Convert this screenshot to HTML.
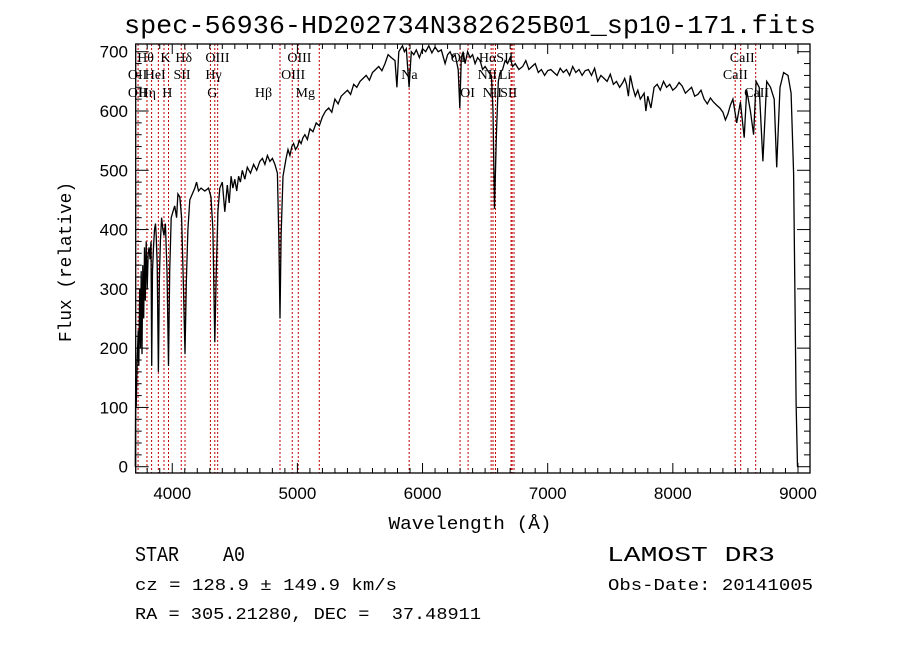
<!DOCTYPE html>
<html><head><meta charset="utf-8"><style>
html,body{margin:0;padding:0;background:#fff;}
svg{display:block;}
text{white-space:pre;}
</style></head><body>
<svg id="chart" width="900" height="649" xmlns="http://www.w3.org/2000/svg" xml:space="preserve">
<rect width="900" height="649" fill="#fff"/>
<text x="470" y="33" text-anchor="middle" font-family="Liberation Mono, monospace" font-size="26" textLength="692" lengthAdjust="spacingAndGlyphs">spec-56936-HD202734N382625B01_sp10-171.fits</text>
<g id="lines"></g>
<g id="labels"></g>
<g id="series"></g>
<g id="axes"></g>
<text x="470" y="529" text-anchor="middle" font-family="Liberation Mono, monospace" font-size="18" textLength="163" lengthAdjust="spacingAndGlyphs">Wavelength (Å)</text>
<text transform="translate(71,262) rotate(-90)" text-anchor="middle" font-family="Liberation Mono, monospace" font-size="18" textLength="160" lengthAdjust="spacingAndGlyphs">Flux (relative)</text>
<text x="135" y="561" font-family="Liberation Mono, monospace" font-size="21" textLength="110" lengthAdjust="spacingAndGlyphs">STAR    A0</text>
<text x="607" y="561" font-family="Liberation Mono, monospace" font-size="21" textLength="168" lengthAdjust="spacingAndGlyphs">LAMOST DR3</text>
<text x="135" y="590" font-family="Liberation Mono, monospace" font-size="17" textLength="262" lengthAdjust="spacingAndGlyphs">cz = 128.9 ± 149.9 km/s</text>
<text x="608" y="590" font-family="Liberation Mono, monospace" font-size="17" textLength="205" lengthAdjust="spacingAndGlyphs">Obs-Date: 20141005</text>
<text x="135" y="619" font-family="Liberation Mono, monospace" font-size="17" textLength="346" lengthAdjust="spacingAndGlyphs">RA = 305.21280, DEC =  37.48911</text>
</svg>
<script>
const waves=[3705,3708,3712,3720,3728,3733,3740,3746,3752,3758,3765,3772,3778,3785,3792,3800,3808,3815,3822,3830,3836,3842,3850,3858,3866,3872,3880,3889,3897,3905,3915,3925,3934,3945,3958,3970,3980,3992,4005,4020,4035,4045,4060,4075,4090,4102,4112,4125,4140,4160,4180,4195,4210,4230,4260,4290,4310,4325,4340,4352,4365,4380,4400,4420,4440,4455,4470,4485,4500,4515,4530,4545,4560,4580,4600,4625,4650,4675,4700,4720,4740,4760,4780,4800,4820,4840,4852,4861,4870,4885,4910,4925,4940,4955,4970,4985,5000,5015,5030,5045,5060,5080,5100,5125,5150,5175,5200,5225,5250,5275,5300,5325,5350,5375,5400,5425,5450,5475,5500,5525,5550,5575,5600,5625,5650,5675,5700,5725,5750,5780,5795,5810,5825,5840,5855,5870,5893,5910,5930,5950,5975,6000,6025,6050,6075,6100,6125,6150,6180,6200,6220,6240,6260,6285,6298,6310,6325,6340,6360,6380,6400,6420,6440,6460,6480,6500,6530,6550,6563,6575,6590,6605,6620,6640,6660,6680,6700,6720,6740,6770,6800,6825,6850,6875,6900,6925,6950,6975,7000,7025,7050,7075,7100,7125,7150,7175,7200,7225,7250,7275,7300,7325,7350,7375,7400,7425,7450,7475,7500,7525,7550,7575,7600,7615,7630,7645,7660,7680,7700,7720,7740,7755,7770,7785,7800,7825,7850,7875,7900,7925,7950,7975,8000,8025,8050,8075,8100,8125,8150,8175,8200,8225,8250,8275,8300,8325,8350,8375,8400,8420,8440,8460,8480,8510,8540,8570,8590,8620,8645,8665,8690,8720,8750,8780,8810,8830,8856,8885,8920,8945,8965,8985,8996,9003];
const flux=[0,150,100,180,230,170,300,200,330,190,340,250,370,280,380,300,360,370,350,380,170,330,370,400,410,390,340,160,320,380,420,400,390,410,330,170,330,420,430,440,420,460,455,420,300,190,310,400,450,460,470,480,465,470,465,470,455,400,210,330,430,470,480,430,475,445,490,470,485,465,490,480,500,485,505,495,510,500,515,520,510,525,515,520,510,495,380,250,390,490,520,535,525,540,545,535,540,550,545,555,560,552,570,565,580,575,590,600,605,598,620,612,625,630,635,628,645,640,650,655,660,652,665,670,675,668,680,695,690,685,640,700,705,710,700,705,640,700,695,703,690,705,700,710,698,708,700,703,680,695,700,690,695,670,605,690,700,680,700,690,695,680,690,685,670,675,665,660,600,435,560,650,665,670,685,680,690,675,680,670,675,685,670,675,680,665,670,660,668,670,665,660,672,665,670,660,675,665,670,660,668,670,660,672,650,660,655,650,662,645,650,640,648,655,645,625,660,640,625,635,620,625,630,600,625,605,640,645,635,650,640,645,635,640,648,642,630,635,640,625,628,635,620,612,622,615,610,605,598,585,595,610,620,580,615,555,635,600,560,650,640,515,650,640,620,505,640,665,660,630,495,107,0];
const lineWaves=[3727,3798,3835,3889,3934,3970,4072,4102,4305,4340,4363,4861,4959,5007,5175,5893,6300,6364,6548,6563,6583,6707,6716,6731,8498,8542,8662];
const labelNames=["Hθ","K","Hδ","OIII","OIII","OI","HαSII","CaII","OII","HeI","SII","Hγ","OIII","Na","NII","Li","CaII","OII","Hη","H","G","Hβ","Mg","OI","NII","SII","CaII"];
const labelWaves=[3720,3905,4025,4265,4920,6225,6450,8455,3645,3780,4010,4265,4870,5830,6440,6610,8400,3645,3730,3920,4280,4660,4985,6300,6480,6620,8570];
const labelRows=[0,0,0,0,0,0,0,0,1,1,1,1,1,1,1,1,1,2,2,2,2,2,2,2,2,2,2];
const xTicks=[4000,5000,6000,7000,8000,9000];
const yTicks=[0,100,200,300,400,500,600,700];

const L=135.7,R=810,T=44,B=473;
const XMIN=3708,XMAX=9096,YMIN=-10.6,YMAX=713;
function xs(w){return L+(w-XMIN)/(XMAX-XMIN)*(R-L);}
function ys(f){return B-(f-YMIN)/(YMAX-YMIN)*(B-T);}
const NS="http://www.w3.org/2000/svg";
function mk(tag,attrs,parent){const e=document.createElementNS(NS,tag);for(const k in attrs)e.setAttribute(k,attrs[k]);parent.appendChild(e);return e;}

const gl=document.getElementById('lines');
lineWaves.forEach(w=>{
  const l=mk('line',{x1:xs(w),x2:xs(w),y1:T,y2:B,stroke:'#c00000','stroke-width':1,'stroke-dasharray':'2,2'},gl);
  
  
});
const glab=document.getElementById('labels');
const rowY=[62,79,97];
labelNames.forEach((n,i)=>{
  const t=mk('text',{x:xs(labelWaves[i]),y:rowY[labelRows[i]],'font-family':'Liberation Serif, DejaVu Serif, serif','font-size':14},glab);
  t.textContent=n;
  
  
});
const gs=document.getElementById('series');
let d='';
waves.forEach((w,i)=>{d+=(i?'L':'M')+xs(w).toFixed(1)+','+ys(flux[i]).toFixed(1);});
const p=mk('path',{d:d,fill:'none',stroke:'#000','stroke-width':1.3},gs);



const ga=document.getElementById('axes');
const fr=mk('rect',{x:L,y:T,width:R-L,height:B-T,fill:'none',stroke:'#000','stroke-width':1.3},ga);


for(let w=3800;w<=9000;w+=100){
  const major=w%1000===0, len=major?10:5, x=xs(w);
  mk('line',{x1:x,x2:x,y1:B,y2:B-len,stroke:'#000'},ga);
  mk('line',{x1:x,x2:x,y1:T,y2:T+len,stroke:'#000'},ga);
}
for(let f=0;f<=700;f+=20){
  const major=f%100===0, len=major?13:6, y=ys(f);
  mk('line',{x1:L,x2:L+len,y1:y,y2:y,stroke:'#000'},ga);
  mk('line',{x1:R,x2:R-len,y1:y,y2:y,stroke:'#000'},ga);
}
xTicks.forEach(v=>{
  const t=mk('text',{x:xs(v),y:B+26,'text-anchor':'middle','font-family':'Liberation Sans, sans-serif','font-size':17},ga);
  t.textContent=v;
  
  
});
yTicks.forEach(v=>{
  const t=mk('text',{x:128,y:ys(v)+6,'text-anchor':'end','font-family':'Liberation Sans, sans-serif','font-size':17},ga);
  t.textContent=v;
  
  
});
</script>
</body></html>
